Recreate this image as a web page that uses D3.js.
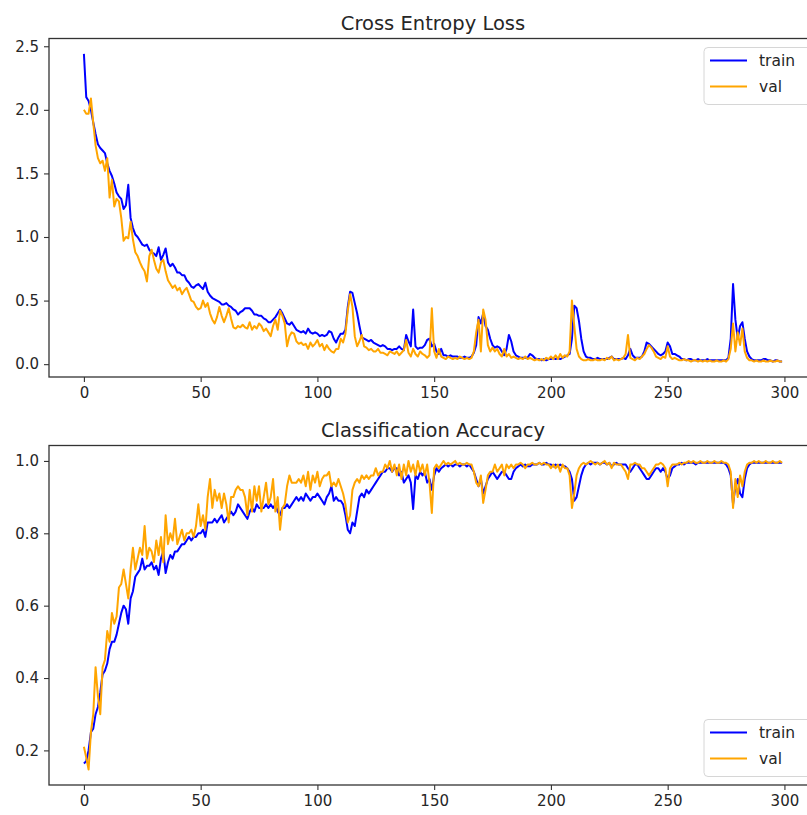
<!DOCTYPE html>
<html>
<head>
<meta charset="utf-8">
<script src="https://cdn.jsdelivr.net/npm/d3@7"></script>
<style>
  body { margin: 0; background: #fff; }
  svg { display: block; overflow: hidden; }
  text { font-family: "DejaVu Sans", sans-serif; fill: #262626; }
</style>
</head>
<body>
<div id="chart"></div>
<script>
"use strict";

// epoch-by-epoch values (300 epochs)
const lossTrain = [
  2.44, 2.10, 2.07, 2.00, 1.90, 1.81, 1.73, 1.70, 1.68, 1.66,
  1.58, 1.52, 1.48, 1.42, 1.35, 1.32, 1.30, 1.22, 1.25, 1.41,
  1.15, 1.07, 1.02, 1.00, 0.97, 0.94, 0.93, 0.94, 0.90, 0.88,
  0.87, 0.85, 0.92, 0.82, 0.86, 0.91, 0.80, 0.77, 0.79, 0.76,
  0.72, 0.72, 0.70, 0.70, 0.66, 0.64, 0.61, 0.60, 0.62, 0.63,
  0.61, 0.59, 0.64, 0.57, 0.54, 0.52, 0.51, 0.50, 0.49, 0.47,
  0.47, 0.48, 0.46, 0.45, 0.43, 0.42, 0.39, 0.41, 0.42, 0.44,
  0.44, 0.44, 0.42, 0.39, 0.39, 0.38, 0.38, 0.36, 0.35, 0.33,
  0.33, 0.35, 0.37, 0.40, 0.43, 0.40, 0.36, 0.32, 0.31, 0.33,
  0.30, 0.27, 0.26, 0.25, 0.26, 0.24, 0.28, 0.25, 0.24, 0.25,
  0.24, 0.22, 0.23, 0.22, 0.23, 0.26, 0.25, 0.20, 0.17, 0.21,
  0.24, 0.24, 0.27, 0.45, 0.57, 0.56, 0.48, 0.40, 0.30, 0.21,
  0.20, 0.19, 0.18, 0.19, 0.17, 0.16, 0.15, 0.14, 0.15, 0.14,
  0.12, 0.12, 0.11, 0.12, 0.12, 0.14, 0.12, 0.11, 0.23, 0.18,
  0.14, 0.43, 0.14, 0.12, 0.13, 0.13, 0.15, 0.19, 0.20, 0.14,
  0.16, 0.10, 0.08, 0.12, 0.07, 0.07, 0.06, 0.07, 0.06, 0.06,
  0.06, 0.05, 0.05, 0.06, 0.05, 0.05, 0.06, 0.09, 0.15, 0.37,
  0.32, 0.40, 0.30, 0.27, 0.20, 0.15, 0.13, 0.14, 0.13, 0.10,
  0.07, 0.12, 0.23, 0.18, 0.10, 0.07, 0.06, 0.05, 0.05, 0.05,
  0.05, 0.08, 0.07, 0.05, 0.04, 0.04, 0.03, 0.04, 0.03, 0.04,
  0.04, 0.05, 0.04, 0.05, 0.04, 0.05, 0.06, 0.07, 0.08, 0.20,
  0.46, 0.44, 0.34, 0.20, 0.10, 0.06, 0.05, 0.05, 0.04, 0.04,
  0.05, 0.04, 0.04, 0.04, 0.04, 0.05, 0.06, 0.04, 0.04, 0.04,
  0.04, 0.05, 0.04, 0.07, 0.12, 0.07, 0.05, 0.05, 0.05, 0.06,
  0.10, 0.17, 0.16, 0.14, 0.12, 0.10, 0.08, 0.07, 0.08, 0.10,
  0.17, 0.14, 0.08, 0.08, 0.07, 0.06, 0.04, 0.04, 0.03, 0.04,
  0.04, 0.03, 0.03, 0.04, 0.03, 0.03, 0.03, 0.04, 0.03, 0.03,
  0.03, 0.03, 0.03, 0.03, 0.03, 0.03, 0.05, 0.20, 0.63, 0.35,
  0.20, 0.30, 0.33, 0.20, 0.10, 0.06, 0.04, 0.03, 0.03, 0.03,
  0.03, 0.04, 0.04, 0.03, 0.03, 0.02, 0.03, 0.03, 0.02, 0.02
];

const lossVal = [
  2.00, 1.97, 1.97, 2.09, 1.90, 1.72, 1.62, 1.58, 1.60, 1.52,
  1.62, 1.31, 1.45, 1.24, 1.30, 1.28, 1.15, 0.97, 1.00, 0.99,
  1.12, 0.98, 0.88, 0.85, 0.80, 0.76, 0.73, 0.65, 0.85, 0.90,
  0.82, 0.75, 0.72, 0.80, 0.82, 0.73, 0.66, 0.63, 0.60, 0.62,
  0.58, 0.60, 0.55, 0.58, 0.60, 0.55, 0.50, 0.49, 0.45, 0.43,
  0.44, 0.50, 0.45, 0.48, 0.40, 0.35, 0.32, 0.37, 0.45, 0.38,
  0.33, 0.38, 0.44, 0.36, 0.29, 0.28, 0.30, 0.29, 0.31, 0.29,
  0.28, 0.33, 0.27, 0.30, 0.28, 0.32, 0.30, 0.26, 0.28, 0.25,
  0.22, 0.30, 0.35, 0.27, 0.42, 0.38, 0.32, 0.14, 0.22, 0.25,
  0.24, 0.18, 0.16, 0.17, 0.15, 0.16, 0.12, 0.17, 0.14, 0.16,
  0.19, 0.14, 0.16, 0.11, 0.15, 0.12, 0.10, 0.09, 0.12, 0.12,
  0.20, 0.17, 0.24, 0.42, 0.55, 0.45, 0.22, 0.14, 0.18, 0.23,
  0.14, 0.13, 0.11, 0.12, 0.10, 0.10, 0.12, 0.09, 0.09, 0.08,
  0.07, 0.10, 0.09, 0.08, 0.10, 0.07, 0.09, 0.11, 0.19, 0.09,
  0.06, 0.12, 0.08, 0.06, 0.10, 0.08, 0.07, 0.05, 0.07, 0.44,
  0.10, 0.05, 0.12, 0.06, 0.05, 0.04, 0.06, 0.05, 0.04, 0.05,
  0.04, 0.06, 0.05, 0.04, 0.05, 0.04, 0.05, 0.10, 0.25, 0.35,
  0.10, 0.43, 0.35, 0.15, 0.10, 0.13, 0.10, 0.12, 0.08, 0.06,
  0.12, 0.06, 0.08, 0.05, 0.06, 0.05, 0.04, 0.05, 0.04, 0.06,
  0.04, 0.05, 0.04, 0.03, 0.04, 0.03, 0.04, 0.03, 0.05, 0.04,
  0.06, 0.04, 0.07, 0.04, 0.08, 0.05, 0.07, 0.06, 0.10, 0.50,
  0.30, 0.12, 0.06, 0.04, 0.03, 0.03, 0.04, 0.03, 0.03, 0.04,
  0.03, 0.03, 0.04, 0.03, 0.05, 0.04, 0.06, 0.03, 0.04, 0.03,
  0.04, 0.05, 0.08, 0.23, 0.05, 0.04, 0.03, 0.05, 0.04, 0.06,
  0.08, 0.12, 0.15, 0.13, 0.10, 0.06, 0.05, 0.04, 0.06, 0.05,
  0.14, 0.06, 0.04, 0.05, 0.04, 0.03, 0.03, 0.04, 0.03, 0.03,
  0.02, 0.03, 0.03, 0.02, 0.03, 0.02, 0.03, 0.02, 0.03, 0.02,
  0.02, 0.03, 0.02, 0.02, 0.03, 0.02, 0.04, 0.12, 0.32, 0.10,
  0.25, 0.15, 0.28, 0.10, 0.05, 0.03, 0.03, 0.02, 0.03, 0.02,
  0.02, 0.03, 0.02, 0.02, 0.03, 0.02, 0.02, 0.03, 0.02, 0.02
];

const accTrain = [
  0.164, 0.17, 0.20, 0.25, 0.26, 0.30, 0.32, 0.36, 0.41, 0.42,
  0.44, 0.48, 0.50, 0.50, 0.52, 0.55, 0.58, 0.60, 0.59, 0.55,
  0.62, 0.64, 0.68, 0.69, 0.70, 0.73, 0.70, 0.71, 0.71, 0.72,
  0.70, 0.71, 0.685, 0.73, 0.75, 0.69, 0.72, 0.74, 0.73, 0.75,
  0.75, 0.76, 0.77, 0.77, 0.78, 0.79, 0.78, 0.79, 0.79, 0.80,
  0.80, 0.81, 0.79, 0.83, 0.83, 0.83, 0.84, 0.83, 0.84, 0.85,
  0.83, 0.84, 0.85, 0.86, 0.85, 0.86, 0.88, 0.87, 0.86, 0.85,
  0.84, 0.86, 0.87, 0.86, 0.88, 0.87, 0.87, 0.87, 0.88, 0.87,
  0.88, 0.87, 0.88, 0.86, 0.85, 0.87, 0.87, 0.88, 0.87, 0.88,
  0.89, 0.90, 0.89, 0.90, 0.89, 0.91, 0.90, 0.89, 0.90, 0.90,
  0.91, 0.90, 0.89, 0.88, 0.90, 0.91, 0.93, 0.89, 0.90, 0.89,
  0.89, 0.88, 0.85, 0.81, 0.80, 0.83, 0.82, 0.86, 0.90, 0.91,
  0.90, 0.92, 0.91, 0.92, 0.93, 0.94, 0.95, 0.96, 0.97, 0.97,
  0.98, 0.98, 0.97, 0.98, 0.98, 0.96, 0.97, 0.94, 0.95, 0.96,
  0.94, 0.867, 0.96, 0.95, 0.97, 0.96, 0.97, 0.94, 0.95, 0.92,
  0.96, 0.98, 0.97, 0.98, 0.985, 0.99, 0.985, 0.99, 0.985, 0.99,
  0.99, 0.985, 0.99, 0.99, 0.985, 0.99, 0.98, 0.97, 0.95, 0.93,
  0.95, 0.91, 0.93, 0.95, 0.96, 0.97, 0.96, 0.95, 0.96, 0.97,
  0.97, 0.96, 0.95, 0.95, 0.97, 0.98, 0.985, 0.99, 0.985, 0.99,
  0.985, 0.985, 0.99, 0.99, 0.99, 0.995, 0.99, 0.99, 0.995, 0.99,
  0.99, 0.985, 0.99, 0.985, 0.99, 0.985, 0.985, 0.98, 0.97, 0.95,
  0.89, 0.90, 0.93, 0.96, 0.98, 0.99, 0.995, 0.99, 0.995, 0.995,
  0.995, 0.99, 0.995, 0.995, 0.99, 0.995, 0.985, 0.99, 0.995, 0.99,
  0.99, 0.99, 0.99, 0.98, 0.97, 0.98, 0.99, 0.99, 0.98, 0.97,
  0.96, 0.95, 0.95, 0.96, 0.97, 0.98, 0.98, 0.97, 0.98, 0.97,
  0.95, 0.96, 0.98, 0.985, 0.99, 0.99, 0.995, 0.99, 0.995, 0.995,
  0.995, 0.995, 0.99, 0.995, 0.995, 0.995, 0.995, 0.995, 0.995, 0.995,
  0.995, 0.995, 0.995, 0.995, 0.995, 0.99, 0.98, 0.96, 0.88, 0.93,
  0.95, 0.91, 0.90, 0.95, 0.98, 0.99, 0.995, 0.995, 0.995, 0.995,
  0.995, 0.995, 0.995, 0.995, 0.995, 0.995, 0.995, 0.995, 0.995, 0.995
];

const accVal = [
  0.21, 0.18, 0.147, 0.25, 0.30, 0.43, 0.35, 0.30, 0.43, 0.45,
  0.53, 0.50, 0.58, 0.55, 0.57, 0.65, 0.66, 0.70, 0.66, 0.62,
  0.70, 0.76, 0.70, 0.73, 0.76, 0.74, 0.82, 0.73, 0.76, 0.75,
  0.72, 0.78, 0.74, 0.79, 0.72, 0.85, 0.77, 0.80, 0.78, 0.84,
  0.77, 0.79, 0.81, 0.78, 0.80, 0.80, 0.81, 0.79, 0.82, 0.88,
  0.82, 0.85, 0.81, 0.90, 0.95, 0.87, 0.92, 0.89, 0.91, 0.87,
  0.91, 0.88, 0.83, 0.90, 0.90, 0.92, 0.93, 0.92, 0.92, 0.90,
  0.85, 0.92, 0.86, 0.93, 0.89, 0.93, 0.86, 0.90, 0.94, 0.88,
  0.90, 0.95, 0.86, 0.90, 0.81, 0.87, 0.88, 0.93, 0.96, 0.94,
  0.94, 0.94, 0.95, 0.94, 0.96, 0.93, 0.97, 0.92, 0.96, 0.94,
  0.97, 0.93, 0.95, 0.96, 0.96, 0.97, 0.93, 0.94, 0.93, 0.95,
  0.93, 0.91, 0.88, 0.83, 0.85, 0.92, 0.94, 0.95, 0.94, 0.96,
  0.95, 0.96, 0.95, 0.96, 0.96, 0.98, 0.96, 0.97, 0.97, 0.99,
  0.98, 1.00, 0.97, 0.99, 0.96, 0.99, 0.95, 0.99, 0.96, 1.00,
  0.97, 0.99, 0.96, 1.00, 0.97, 0.99, 0.96, 0.99, 0.94, 0.856,
  0.98, 0.99, 0.98, 0.99, 1.00, 0.99, 0.995, 0.99, 0.995, 1.00,
  0.99, 0.995, 0.99, 0.99, 0.995, 0.99, 0.99, 0.97, 0.94, 0.93,
  0.96, 0.884, 0.92, 0.96, 0.97, 0.97, 0.99, 0.97, 0.98, 0.99,
  0.96, 0.99, 0.98, 0.99, 0.98, 0.99, 0.99, 0.995, 0.99, 0.98,
  0.99, 0.99, 0.995, 0.99, 0.99, 0.995, 0.99, 0.995, 0.99, 0.99,
  0.98, 0.99, 0.98, 0.99, 0.97, 0.99, 0.98, 0.98, 0.96, 0.87,
  0.91, 0.96, 0.98, 0.99, 0.995, 0.99, 0.995, 1.00, 0.995, 0.99,
  0.995, 0.99, 0.995, 1.00, 0.99, 0.995, 0.98, 0.995, 0.99, 0.99,
  0.99, 0.98, 0.97, 0.95, 0.99, 0.99, 0.995, 0.99, 0.99, 0.98,
  0.98, 0.97, 0.96, 0.97, 0.98, 0.99, 0.99, 0.995, 0.99, 0.98,
  0.93, 0.98, 0.99, 0.99, 0.99, 0.995, 0.99, 0.995, 0.995, 1.00,
  0.995, 1.00, 0.995, 0.995, 1.00, 0.995, 0.995, 1.00, 0.995, 0.995,
  1.00, 0.995, 0.995, 1.00, 0.995, 0.995, 0.99, 0.97, 0.87, 0.95,
  0.90, 0.96, 0.93, 0.97, 0.99, 0.995, 0.995, 1.00, 0.995, 1.00,
  0.995, 0.995, 1.00, 0.995, 0.995, 1.00, 0.995, 0.995, 1.00, 0.995
];

const xTicks = [0, 50, 100, 150, 200, 250, 300];
const lossTicks = [0.0, 0.5, 1.0, 1.5, 2.0, 2.5];
const accTicks = [0.2, 0.4, 0.6, 0.8, 1.0];
const seriesNames = ["train", "val"];
const seriesColors = ["#0000ff", "#ffa500"];

const W = 807, H = 815;

const svg = d3.select("#chart").append("svg")
    .attr("width", W)
    .attr("height", H);

// matplotlib style 5% padding on the data range
function padded(values) {
    const lo = d3.min(values), hi = d3.max(values);
    const m = (hi - lo) * 0.05;
    return [lo - m, hi + m];
}

function drawPanel(opt) {
    const n = opt.series[0].length;
    const x = d3.scaleLinear()
        .domain([-0.05 * (n - 1), (n - 1) * 1.05])
        .range([opt.left, opt.right]);
    const y = d3.scaleLinear()
        .domain(padded(opt.series[0].concat(opt.series[1])))
        .range([opt.bottom, opt.top]);

    const g = svg.append("g");

    // clip so lines stay inside the frame
    const clipId = "clip-" + opt.id;
    svg.append("clipPath").attr("id", clipId)
        .append("rect")
        .attr("x", opt.left).attr("y", opt.top)
        .attr("width", opt.right - opt.left)
        .attr("height", opt.bottom - opt.top);

    const line = d3.line()
        .x((d, i) => x(i))
        .y(d => y(d));

    g.append("g").attr("clip-path", "url(#" + clipId + ")")
        .selectAll("path")
        .data(opt.series)
        .enter().append("path")
        .attr("d", line)
        .attr("fill", "none")
        .attr("stroke", (d, i) => seriesColors[i])
        .attr("stroke-width", 2)
        .attr("stroke-linejoin", "round");

    // axes
    const xAxis = d3.axisBottom(x).tickValues(xTicks)
        .tickSize(5).tickSizeOuter(0).tickPadding(5)
        .tickFormat(d3.format("d"));
    const yAxis = d3.axisLeft(y).tickValues(opt.yTicks)
        .tickSize(5).tickSizeOuter(0).tickPadding(5)
        .tickFormat(d3.format(".1f"));

    const gx = g.append("g")
        .attr("transform", "translate(0," + opt.bottom + ")")
        .call(xAxis);
    const gy = g.append("g")
        .attr("transform", "translate(" + opt.left + ",0)")
        .call(yAxis);
    [gx, gy].forEach(a => {
        a.select(".domain").remove();
        a.selectAll("line").attr("stroke", "#333").attr("stroke-width", 1.1);
        a.selectAll("text").style("font-size", "15px")
            .style("font-family", "'DejaVu Sans', sans-serif")
            .attr("fill", "#262626");
    });

    // frame
    g.append("rect")
        .attr("x", opt.left).attr("y", opt.top)
        .attr("width", opt.right - opt.left)
        .attr("height", opt.bottom - opt.top)
        .attr("fill", "none")
        .attr("stroke", "#333")
        .attr("stroke-width", 1.3);

    // title
    g.append("text")
        .attr("x", (opt.left + opt.right) / 2)
        .attr("y", opt.top - 9)
        .attr("text-anchor", "middle")
        .style("font-size", "19.5px")
        .text(opt.title);

    // legend
    const lg = g.append("g")
        .attr("transform", "translate(" + opt.legX + "," + opt.legY + ")");
    lg.append("rect")
        .attr("x", 0).attr("y", 0)
        .attr("width", 130).attr("height", 57)
        .attr("rx", 4)
        .attr("fill", "white").attr("fill-opacity", 0.8)
        .attr("stroke", "#d6d6d6");
    seriesNames.forEach((name, i) => {
        const ly = 13 + i * 26;
        lg.append("line")
            .attr("x1", 6).attr("x2", 43)
            .attr("y1", ly).attr("y2", ly)
            .attr("stroke", seriesColors[i])
            .attr("stroke-width", 2);
        lg.append("text")
            .attr("x", 55).attr("y", ly + 5)
            .style("font-size", "15.5px")
            .text(name);
    });
}

drawPanel({
    id: "loss",
    title: "Cross Entropy Loss",
    series: [lossTrain, lossVal],
    yTicks: lossTicks,
    left: 49, right: 817, top: 38.5, bottom: 377,
    legX: 704, legY: 47.5
});

drawPanel({
    id: "acc",
    title: "Classification Accuracy",
    series: [accTrain, accVal],
    yTicks: accTicks,
    left: 49, right: 817, top: 445.5, bottom: 785,
    legX: 704, legY: 719.5
});
</script>
</body>
</html>
